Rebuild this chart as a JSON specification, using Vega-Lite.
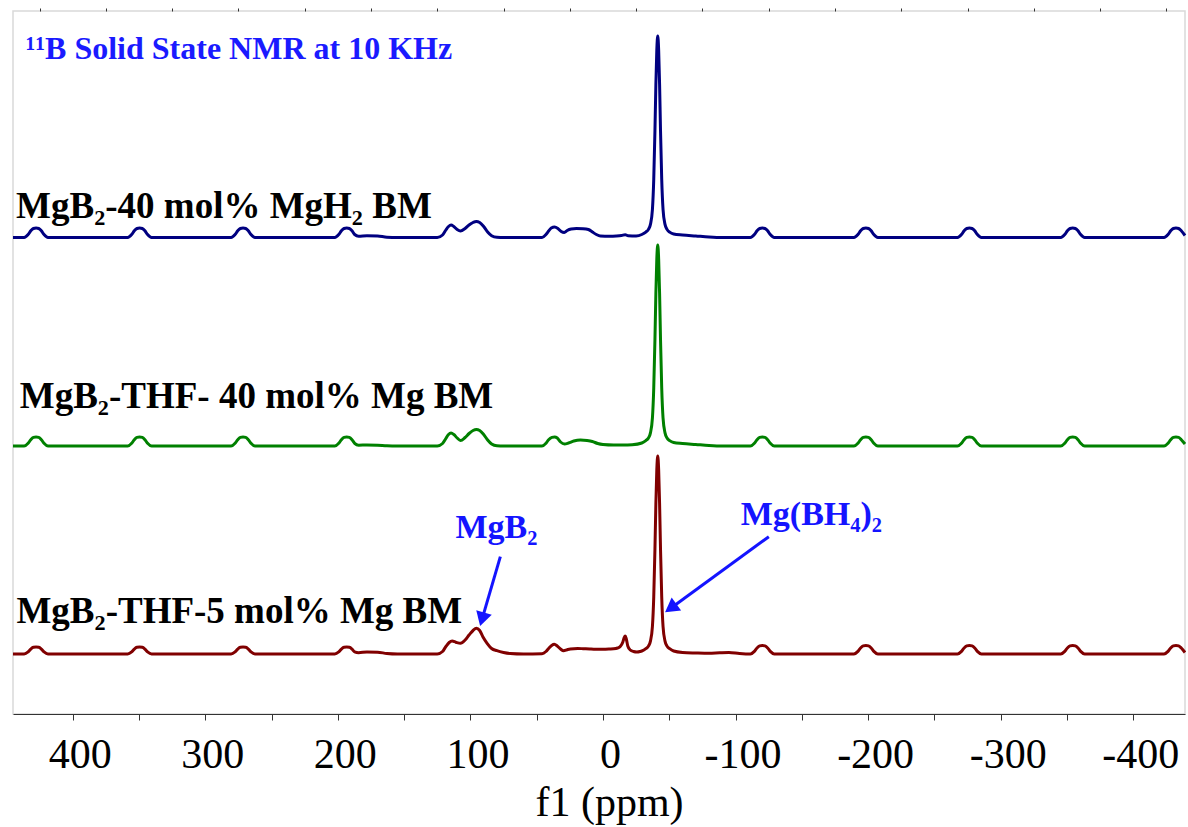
{
  "$schema": "https://vega.github.io/schema/vega-lite/v6.json",
  "width": 1172,
  "height": 703,
  "autosize": {"type": "none"},
  "padding": {"left": 13, "top": 11, "right": 3, "bottom": 113},
  "background": "white",
  "config": {"view": {"stroke": "#d9d9d9", "strokeWidth": 1.5}},
  "resolve": {"axis": {"x": "independent"}},
  "datasets": {
    "spectra": [
      {"s":"H40","ppm":445,"i":476.5},{"s":"H40","ppm":436.6,"i":476.5},{"s":"H40","ppm":433.6,"i":479.4},{"s":"H40","ppm":431.6,"i":483.2},{"s":"H40","ppm":429.6,"i":485.5},{"s":"H40","ppm":427.6,"i":486},{"s":"H40","ppm":425.6,"i":485.5},{"s":"H40","ppm":423.6,"i":483.2},{"s":"H40","ppm":421.6,"i":479.4},{"s":"H40","ppm":418.6,"i":476.5},
      {"s":"H40","ppm":358.5,"i":476.5},{"s":"H40","ppm":355.5,"i":479.4},{"s":"H40","ppm":353.5,"i":483.2},{"s":"H40","ppm":351.5,"i":485.5},{"s":"H40","ppm":349.5,"i":486},{"s":"H40","ppm":347.5,"i":485.5},{"s":"H40","ppm":345.5,"i":483.2},{"s":"H40","ppm":343.5,"i":479.4},{"s":"H40","ppm":340.5,"i":476.5},
      {"s":"H40","ppm":280.5,"i":476.5},{"s":"H40","ppm":277.5,"i":479.4},{"s":"H40","ppm":275.5,"i":483.2},{"s":"H40","ppm":273.5,"i":485.5},{"s":"H40","ppm":271.5,"i":486},{"s":"H40","ppm":269.5,"i":485.5},{"s":"H40","ppm":267.5,"i":483.2},{"s":"H40","ppm":265.5,"i":479.4},{"s":"H40","ppm":262.5,"i":476.5},
      {"s":"H40","ppm":202.3,"i":476.5},{"s":"H40","ppm":199.3,"i":479.4},{"s":"H40","ppm":197.3,"i":483.2},{"s":"H40","ppm":195.3,"i":485.5},{"s":"H40","ppm":193.3,"i":486},{"s":"H40","ppm":191.3,"i":485.5},{"s":"H40","ppm":189.3,"i":483.2},{"s":"H40","ppm":187.3,"i":479.5},{"s":"H40","ppm":184.3,"i":477.8},{"s":"H40","ppm":178,"i":478.3},{"s":"H40","ppm":170,"i":478},{"s":"H40","ppm":163,"i":476.8},{"s":"H40","ppm":155,"i":476.5},
      {"s":"H40","ppm":125,"i":476.5},{"s":"H40","ppm":121,"i":479},{"s":"H40","ppm":118.5,"i":484},{"s":"H40","ppm":116.5,"i":487.5},{"s":"H40","ppm":114.6,"i":489},{"s":"H40","ppm":112.5,"i":487.5},{"s":"H40","ppm":110,"i":484.5},{"s":"H40","ppm":107.5,"i":483},{"s":"H40","ppm":104,"i":485.5},{"s":"H40","ppm":101,"i":489},{"s":"H40","ppm":98,"i":491.5},{"s":"H40","ppm":95.5,"i":492.5},{"s":"H40","ppm":93,"i":491.5},{"s":"H40","ppm":90,"i":487.5},{"s":"H40","ppm":87,"i":482},{"s":"H40","ppm":84,"i":478.3},{"s":"H40","ppm":80,"i":476.7},{"s":"H40","ppm":75,"i":476.5},
      {"s":"H40","ppm":46,"i":476.5},{"s":"H40","ppm":43,"i":479.5},{"s":"H40","ppm":41,"i":483},{"s":"H40","ppm":39,"i":486},{"s":"H40","ppm":36.5,"i":487},{"s":"H40","ppm":34,"i":485.5},{"s":"H40","ppm":31.5,"i":482.5},{"s":"H40","ppm":29.2,"i":481.5},{"s":"H40","ppm":27,"i":483.5},{"s":"H40","ppm":24,"i":485},{"s":"H40","ppm":20,"i":485.5},{"s":"H40","ppm":15,"i":485.3},{"s":"H40","ppm":11,"i":484.5},{"s":"H40","ppm":8,"i":482},{"s":"H40","ppm":5,"i":479.5},{"s":"H40","ppm":2,"i":478},{"s":"H40","ppm":-5,"i":477.8},{"s":"H40","ppm":-10,"i":478},{"s":"H40","ppm":-14,"i":478.5},{"s":"H40","ppm":-16.8,"i":479.3},{"s":"H40","ppm":-19,"i":478.2},{"s":"H40","ppm":-25,"i":478},
      {"s":"H40","ppm":-29.3,"i":479.5},{"s":"H40","ppm":-32.3,"i":481.9},{"s":"H40","ppm":-34.3,"i":484.6},{"s":"H40","ppm":-35.8,"i":489.6},{"s":"H40","ppm":-37.3,"i":504.7},{"s":"H40","ppm":-38.3,"i":534.9},{"s":"H40","ppm":-39.2,"i":583.3},{"s":"H40","ppm":-39.9,"i":629.6},{"s":"H40","ppm":-40.6,"i":663.9},{"s":"H40","ppm":-41.3,"i":678},{"s":"H40","ppm":-42,"i":663.9},{"s":"H40","ppm":-42.7,"i":629.6},{"s":"H40","ppm":-43.4,"i":583.3},{"s":"H40","ppm":-44.3,"i":534.9},{"s":"H40","ppm":-45.3,"i":504.7},{"s":"H40","ppm":-46.8,"i":489.6},{"s":"H40","ppm":-48.3,"i":484.6},{"s":"H40","ppm":-50.3,"i":481.9},{"s":"H40","ppm":-53.3,"i":480},{"s":"H40","ppm":-60,"i":479},{"s":"H40","ppm":-70,"i":478},{"s":"H40","ppm":-80,"i":477},{"s":"H40","ppm":-90,"i":476.5},
      {"s":"H40","ppm":-111.2,"i":476.5},{"s":"H40","ppm":-114.2,"i":479.4},{"s":"H40","ppm":-116.2,"i":483.2},{"s":"H40","ppm":-118.2,"i":485.5},{"s":"H40","ppm":-120.2,"i":486},{"s":"H40","ppm":-122.2,"i":485.5},{"s":"H40","ppm":-124.2,"i":483.2},{"s":"H40","ppm":-126.2,"i":479.4},{"s":"H40","ppm":-129.2,"i":476.5},
      {"s":"H40","ppm":-189.3,"i":476.5},{"s":"H40","ppm":-192.3,"i":479.4},{"s":"H40","ppm":-194.3,"i":483.2},{"s":"H40","ppm":-196.3,"i":485.5},{"s":"H40","ppm":-198.3,"i":486},{"s":"H40","ppm":-200.3,"i":485.5},{"s":"H40","ppm":-202.3,"i":483.2},{"s":"H40","ppm":-204.3,"i":479.4},{"s":"H40","ppm":-207.3,"i":476.5},
      {"s":"H40","ppm":-267.4,"i":476.5},{"s":"H40","ppm":-270.4,"i":479.4},{"s":"H40","ppm":-272.4,"i":483.2},{"s":"H40","ppm":-274.4,"i":485.5},{"s":"H40","ppm":-276.4,"i":486},{"s":"H40","ppm":-278.4,"i":485.5},{"s":"H40","ppm":-280.4,"i":483.2},{"s":"H40","ppm":-282.4,"i":479.4},{"s":"H40","ppm":-285.4,"i":476.5},
      {"s":"H40","ppm":-345.3,"i":476.5},{"s":"H40","ppm":-348.3,"i":479.4},{"s":"H40","ppm":-350.3,"i":483.2},{"s":"H40","ppm":-352.3,"i":485.5},{"s":"H40","ppm":-354.3,"i":486},{"s":"H40","ppm":-356.3,"i":485.5},{"s":"H40","ppm":-358.3,"i":483.2},{"s":"H40","ppm":-360.3,"i":479.4},{"s":"H40","ppm":-363.3,"i":476.5},
      {"s":"H40","ppm":-423.2,"i":476.5},{"s":"H40","ppm":-426.2,"i":479.4},{"s":"H40","ppm":-428.2,"i":483.2},{"s":"H40","ppm":-430.2,"i":485.5},{"s":"H40","ppm":-432.2,"i":486},{"s":"H40","ppm":-434.2,"i":485.5},{"s":"H40","ppm":-436.2,"i":483.2},{"s":"H40","ppm":-439,"i":478.5},

      {"s":"Mg40","ppm":445,"i":268},{"s":"Mg40","ppm":436.6,"i":268},{"s":"Mg40","ppm":433.6,"i":270.7},{"s":"Mg40","ppm":431.6,"i":274.3},{"s":"Mg40","ppm":429.6,"i":276.6},{"s":"Mg40","ppm":427.6,"i":277},{"s":"Mg40","ppm":425.6,"i":276.6},{"s":"Mg40","ppm":423.6,"i":274.3},{"s":"Mg40","ppm":421.6,"i":270.7},{"s":"Mg40","ppm":418.6,"i":268},
      {"s":"Mg40","ppm":358.5,"i":268},{"s":"Mg40","ppm":355.5,"i":270.7},{"s":"Mg40","ppm":353.5,"i":274.3},{"s":"Mg40","ppm":351.5,"i":276.6},{"s":"Mg40","ppm":349.5,"i":277},{"s":"Mg40","ppm":347.5,"i":276.6},{"s":"Mg40","ppm":345.5,"i":274.3},{"s":"Mg40","ppm":343.5,"i":270.7},{"s":"Mg40","ppm":340.5,"i":268},
      {"s":"Mg40","ppm":280.5,"i":268},{"s":"Mg40","ppm":277.5,"i":270.7},{"s":"Mg40","ppm":275.5,"i":274.3},{"s":"Mg40","ppm":273.5,"i":276.6},{"s":"Mg40","ppm":271.5,"i":277},{"s":"Mg40","ppm":269.5,"i":276.6},{"s":"Mg40","ppm":267.5,"i":274.3},{"s":"Mg40","ppm":265.5,"i":270.7},{"s":"Mg40","ppm":262.5,"i":268},
      {"s":"Mg40","ppm":202.3,"i":268},{"s":"Mg40","ppm":199.3,"i":270.7},{"s":"Mg40","ppm":197.3,"i":274.3},{"s":"Mg40","ppm":195.3,"i":276.6},{"s":"Mg40","ppm":193.3,"i":277},{"s":"Mg40","ppm":191.3,"i":276.6},{"s":"Mg40","ppm":189.3,"i":274.3},{"s":"Mg40","ppm":187.3,"i":270.7},{"s":"Mg40","ppm":184.3,"i":268.8},{"s":"Mg40","ppm":178,"i":269},{"s":"Mg40","ppm":170,"i":268.8},{"s":"Mg40","ppm":163,"i":268.2},{"s":"Mg40","ppm":155,"i":268},
      {"s":"Mg40","ppm":125,"i":268},{"s":"Mg40","ppm":121,"i":270.5},{"s":"Mg40","ppm":118.5,"i":275.5},{"s":"Mg40","ppm":116.5,"i":279.5},{"s":"Mg40","ppm":114.6,"i":281},{"s":"Mg40","ppm":112.5,"i":279.5},{"s":"Mg40","ppm":110,"i":276},{"s":"Mg40","ppm":107.5,"i":273.5},{"s":"Mg40","ppm":104,"i":276.5},{"s":"Mg40","ppm":101,"i":280.5},{"s":"Mg40","ppm":98,"i":283.5},{"s":"Mg40","ppm":95.5,"i":284.5},{"s":"Mg40","ppm":93,"i":283.5},{"s":"Mg40","ppm":90,"i":279.5},{"s":"Mg40","ppm":87,"i":274},{"s":"Mg40","ppm":84,"i":270},{"s":"Mg40","ppm":80,"i":268.2},{"s":"Mg40","ppm":75,"i":268},
      {"s":"Mg40","ppm":46,"i":268},{"s":"Mg40","ppm":43,"i":270.7},{"s":"Mg40","ppm":41,"i":274.3},{"s":"Mg40","ppm":38.5,"i":276.6},{"s":"Mg40","ppm":36.5,"i":277},{"s":"Mg40","ppm":34.5,"i":276},{"s":"Mg40","ppm":32,"i":272},{"s":"Mg40","ppm":29,"i":270},{"s":"Mg40","ppm":26,"i":271},{"s":"Mg40","ppm":22,"i":273},{"s":"Mg40","ppm":17,"i":274},{"s":"Mg40","ppm":12,"i":273.5},{"s":"Mg40","ppm":8,"i":272.5},{"s":"Mg40","ppm":4,"i":270.5},{"s":"Mg40","ppm":0,"i":269.5},{"s":"Mg40","ppm":-8,"i":269},{"s":"Mg40","ppm":-15,"i":269},{"s":"Mg40","ppm":-22,"i":269.3},
      {"s":"Mg40","ppm":-29.3,"i":271},{"s":"Mg40","ppm":-32.3,"i":273.4},{"s":"Mg40","ppm":-34.3,"i":276},{"s":"Mg40","ppm":-35.8,"i":281.1},{"s":"Mg40","ppm":-37.3,"i":296.1},{"s":"Mg40","ppm":-38.3,"i":326.3},{"s":"Mg40","ppm":-39.2,"i":374.5},{"s":"Mg40","ppm":-39.9,"i":420.8},{"s":"Mg40","ppm":-40.6,"i":455},{"s":"Mg40","ppm":-41.3,"i":469},{"s":"Mg40","ppm":-42,"i":455},{"s":"Mg40","ppm":-42.7,"i":420.8},{"s":"Mg40","ppm":-43.4,"i":374.5},{"s":"Mg40","ppm":-44.3,"i":326.3},{"s":"Mg40","ppm":-45.3,"i":296.1},{"s":"Mg40","ppm":-46.8,"i":281.1},{"s":"Mg40","ppm":-48.3,"i":276},{"s":"Mg40","ppm":-50.3,"i":273.4},{"s":"Mg40","ppm":-53.3,"i":271.5},{"s":"Mg40","ppm":-60,"i":270.5},{"s":"Mg40","ppm":-70,"i":269.5},{"s":"Mg40","ppm":-80,"i":268.5},{"s":"Mg40","ppm":-90,"i":268},
      {"s":"Mg40","ppm":-111.2,"i":268},{"s":"Mg40","ppm":-114.2,"i":270.7},{"s":"Mg40","ppm":-116.2,"i":274.3},{"s":"Mg40","ppm":-118.2,"i":276.6},{"s":"Mg40","ppm":-120.2,"i":277},{"s":"Mg40","ppm":-122.2,"i":276.6},{"s":"Mg40","ppm":-124.2,"i":274.3},{"s":"Mg40","ppm":-126.2,"i":270.7},{"s":"Mg40","ppm":-129.2,"i":268},
      {"s":"Mg40","ppm":-189.3,"i":268},{"s":"Mg40","ppm":-192.3,"i":270.7},{"s":"Mg40","ppm":-194.3,"i":274.3},{"s":"Mg40","ppm":-196.3,"i":276.6},{"s":"Mg40","ppm":-198.3,"i":277},{"s":"Mg40","ppm":-200.3,"i":276.6},{"s":"Mg40","ppm":-202.3,"i":274.3},{"s":"Mg40","ppm":-204.3,"i":270.7},{"s":"Mg40","ppm":-207.3,"i":268},
      {"s":"Mg40","ppm":-267.4,"i":268},{"s":"Mg40","ppm":-270.4,"i":270.7},{"s":"Mg40","ppm":-272.4,"i":274.3},{"s":"Mg40","ppm":-274.4,"i":276.6},{"s":"Mg40","ppm":-276.4,"i":277},{"s":"Mg40","ppm":-278.4,"i":276.6},{"s":"Mg40","ppm":-280.4,"i":274.3},{"s":"Mg40","ppm":-282.4,"i":270.7},{"s":"Mg40","ppm":-285.4,"i":268},
      {"s":"Mg40","ppm":-345.3,"i":268},{"s":"Mg40","ppm":-348.3,"i":270.7},{"s":"Mg40","ppm":-350.3,"i":274.3},{"s":"Mg40","ppm":-352.3,"i":276.6},{"s":"Mg40","ppm":-354.3,"i":277},{"s":"Mg40","ppm":-356.3,"i":276.6},{"s":"Mg40","ppm":-358.3,"i":274.3},{"s":"Mg40","ppm":-360.3,"i":270.7},{"s":"Mg40","ppm":-363.3,"i":268},
      {"s":"Mg40","ppm":-423.2,"i":268},{"s":"Mg40","ppm":-426.2,"i":270.7},{"s":"Mg40","ppm":-428.2,"i":274.3},{"s":"Mg40","ppm":-430.2,"i":276.6},{"s":"Mg40","ppm":-432.2,"i":277},{"s":"Mg40","ppm":-434.2,"i":276.6},{"s":"Mg40","ppm":-436.2,"i":274.3},{"s":"Mg40","ppm":-439,"i":270},

      {"s":"Mg5","ppm":445,"i":60},{"s":"Mg5","ppm":436.6,"i":60},{"s":"Mg5","ppm":433.6,"i":62.1},{"s":"Mg5","ppm":431.6,"i":64.9},{"s":"Mg5","ppm":429.6,"i":66.7},{"s":"Mg5","ppm":427.6,"i":67},{"s":"Mg5","ppm":425.6,"i":66.7},{"s":"Mg5","ppm":423.6,"i":64.9},{"s":"Mg5","ppm":421.6,"i":62.1},{"s":"Mg5","ppm":418.6,"i":60},
      {"s":"Mg5","ppm":358.5,"i":60},{"s":"Mg5","ppm":355.5,"i":62.1},{"s":"Mg5","ppm":353.5,"i":64.9},{"s":"Mg5","ppm":351.5,"i":66.7},{"s":"Mg5","ppm":349.5,"i":67},{"s":"Mg5","ppm":347.5,"i":66.7},{"s":"Mg5","ppm":345.5,"i":64.9},{"s":"Mg5","ppm":343.5,"i":62.1},{"s":"Mg5","ppm":340.5,"i":60},
      {"s":"Mg5","ppm":280.5,"i":60},{"s":"Mg5","ppm":277.5,"i":62.1},{"s":"Mg5","ppm":275.5,"i":64.9},{"s":"Mg5","ppm":273.5,"i":66.7},{"s":"Mg5","ppm":271.5,"i":67},{"s":"Mg5","ppm":269.5,"i":66.7},{"s":"Mg5","ppm":267.5,"i":64.9},{"s":"Mg5","ppm":265.5,"i":62.1},{"s":"Mg5","ppm":262.5,"i":60},
      {"s":"Mg5","ppm":202.3,"i":60},{"s":"Mg5","ppm":199.3,"i":62.1},{"s":"Mg5","ppm":197.3,"i":64.9},{"s":"Mg5","ppm":195.3,"i":66.7},{"s":"Mg5","ppm":193.3,"i":67},{"s":"Mg5","ppm":191.3,"i":66.7},{"s":"Mg5","ppm":189.3,"i":64.9},{"s":"Mg5","ppm":187.3,"i":62.1},{"s":"Mg5","ppm":184.3,"i":61.3},{"s":"Mg5","ppm":178,"i":62},{"s":"Mg5","ppm":170,"i":61.8},{"s":"Mg5","ppm":163,"i":60.5},{"s":"Mg5","ppm":155,"i":60},
      {"s":"Mg5","ppm":125,"i":60},{"s":"Mg5","ppm":121,"i":62.5},{"s":"Mg5","ppm":118.5,"i":67.5},{"s":"Mg5","ppm":116,"i":71.5},{"s":"Mg5","ppm":113.8,"i":73},{"s":"Mg5","ppm":111,"i":71.8},{"s":"Mg5","ppm":107.5,"i":70.7},{"s":"Mg5","ppm":104,"i":74},{"s":"Mg5","ppm":101,"i":79},{"s":"Mg5","ppm":98,"i":83.5},{"s":"Mg5","ppm":95.5,"i":85.7},{"s":"Mg5","ppm":93,"i":83.5},{"s":"Mg5","ppm":90.5,"i":77},{"s":"Mg5","ppm":87.4,"i":70.7},{"s":"Mg5","ppm":84,"i":65.5},{"s":"Mg5","ppm":80,"i":63.3},{"s":"Mg5","ppm":75,"i":61.5},{"s":"Mg5","ppm":70,"i":60.5},{"s":"Mg5","ppm":60,"i":60},
      {"s":"Mg5","ppm":46,"i":60.3},{"s":"Mg5","ppm":43,"i":62.5},{"s":"Mg5","ppm":41,"i":65.5},{"s":"Mg5","ppm":38.7,"i":68.5},{"s":"Mg5","ppm":36.7,"i":69.7},{"s":"Mg5","ppm":34.5,"i":68},{"s":"Mg5","ppm":32,"i":65},{"s":"Mg5","ppm":29.7,"i":63.3},{"s":"Mg5","ppm":27,"i":64.3},{"s":"Mg5","ppm":24.6,"i":65},{"s":"Mg5","ppm":19,"i":65.5},{"s":"Mg5","ppm":15,"i":65.3},{"s":"Mg5","ppm":10,"i":65},{"s":"Mg5","ppm":7,"i":64.8},{"s":"Mg5","ppm":0,"i":64.8},{"s":"Mg5","ppm":-5,"i":65},{"s":"Mg5","ppm":-8,"i":65.2},{"s":"Mg5","ppm":-11,"i":66},{"s":"Mg5","ppm":-13,"i":67.5},{"s":"Mg5","ppm":-15,"i":72},{"s":"Mg5","ppm":-16,"i":76.5},{"s":"Mg5","ppm":-16.8,"i":78},{"s":"Mg5","ppm":-17.6,"i":75},{"s":"Mg5","ppm":-18.7,"i":68},{"s":"Mg5","ppm":-20.6,"i":64},{"s":"Mg5","ppm":-23,"i":62.5},{"s":"Mg5","ppm":-25.6,"i":62},{"s":"Mg5","ppm":-28,"i":62.5},
      {"s":"Mg5","ppm":-29.3,"i":63},{"s":"Mg5","ppm":-32.3,"i":65.3},{"s":"Mg5","ppm":-34.3,"i":67.9},{"s":"Mg5","ppm":-35.8,"i":72.9},{"s":"Mg5","ppm":-37.3,"i":87.7},{"s":"Mg5","ppm":-38.3,"i":117.4},{"s":"Mg5","ppm":-39.2,"i":164.9},{"s":"Mg5","ppm":-39.9,"i":210.5},{"s":"Mg5","ppm":-40.6,"i":244.1},{"s":"Mg5","ppm":-41.3,"i":258},{"s":"Mg5","ppm":-42,"i":244.1},{"s":"Mg5","ppm":-42.7,"i":210.5},{"s":"Mg5","ppm":-43.4,"i":164.9},{"s":"Mg5","ppm":-44.3,"i":117.4},{"s":"Mg5","ppm":-45.3,"i":87.7},{"s":"Mg5","ppm":-46.8,"i":72.9},{"s":"Mg5","ppm":-48.3,"i":67.9},{"s":"Mg5","ppm":-50.3,"i":65.3},{"s":"Mg5","ppm":-53.3,"i":63},{"s":"Mg5","ppm":-60,"i":61.5},{"s":"Mg5","ppm":-70,"i":61},{"s":"Mg5","ppm":-80,"i":60.7},{"s":"Mg5","ppm":-88,"i":61.2},{"s":"Mg5","ppm":-95,"i":61.5},{"s":"Mg5","ppm":-103,"i":60.5},
      {"s":"Mg5","ppm":-111.2,"i":60},{"s":"Mg5","ppm":-114.2,"i":62.6},{"s":"Mg5","ppm":-116.2,"i":66},{"s":"Mg5","ppm":-118.2,"i":68.1},{"s":"Mg5","ppm":-120.2,"i":68.5},{"s":"Mg5","ppm":-122.2,"i":68.1},{"s":"Mg5","ppm":-124.2,"i":66},{"s":"Mg5","ppm":-126.2,"i":62.6},{"s":"Mg5","ppm":-129.2,"i":60},
      {"s":"Mg5","ppm":-189.3,"i":60},{"s":"Mg5","ppm":-192.3,"i":62.6},{"s":"Mg5","ppm":-194.3,"i":66},{"s":"Mg5","ppm":-196.3,"i":68.1},{"s":"Mg5","ppm":-198.3,"i":68.5},{"s":"Mg5","ppm":-200.3,"i":68.1},{"s":"Mg5","ppm":-202.3,"i":66},{"s":"Mg5","ppm":-204.3,"i":62.6},{"s":"Mg5","ppm":-207.3,"i":60},
      {"s":"Mg5","ppm":-267.4,"i":60},{"s":"Mg5","ppm":-270.4,"i":62.6},{"s":"Mg5","ppm":-272.4,"i":66},{"s":"Mg5","ppm":-274.4,"i":68.1},{"s":"Mg5","ppm":-276.4,"i":68.5},{"s":"Mg5","ppm":-278.4,"i":68.1},{"s":"Mg5","ppm":-280.4,"i":66},{"s":"Mg5","ppm":-282.4,"i":62.6},{"s":"Mg5","ppm":-285.4,"i":60},
      {"s":"Mg5","ppm":-345.3,"i":60},{"s":"Mg5","ppm":-348.3,"i":62.6},{"s":"Mg5","ppm":-350.3,"i":66},{"s":"Mg5","ppm":-352.3,"i":68.1},{"s":"Mg5","ppm":-354.3,"i":68.5},{"s":"Mg5","ppm":-356.3,"i":68.1},{"s":"Mg5","ppm":-358.3,"i":66},{"s":"Mg5","ppm":-360.3,"i":62.6},{"s":"Mg5","ppm":-363.3,"i":60},
      {"s":"Mg5","ppm":-423.2,"i":60},{"s":"Mg5","ppm":-426.2,"i":62.6},{"s":"Mg5","ppm":-428.2,"i":66},{"s":"Mg5","ppm":-430.2,"i":68.1},{"s":"Mg5","ppm":-432.2,"i":68.5},{"s":"Mg5","ppm":-434.2,"i":68.1},{"s":"Mg5","ppm":-436.2,"i":66},{"s":"Mg5","ppm":-439,"i":61.5}
    ],
    "titles": [
      {"ppm": 435.3, "i": 654.7, "t": "¹¹B Solid State NMR at 10 KHz"}
    ],
    "samples": [
      {"ppm": 442.7, "i": 495.7, "t": "MgB₂-40 mol% MgH₂ BM"},
      {"ppm": 439.9, "i": 305.7, "t": "MgB₂-THF- 40 mol% Mg BM"},
      {"ppm": 442.4, "i": 91.3, "t": "MgB₂-THF-5 mol% Mg BM"}
    ],
    "notes": [
      {"ppm": 111.3, "i": 176, "t": "MgB₂"},
      {"ppm": -103.9, "i": 189, "t": "Mg(BH₄)₂"}
    ],
    "arrows": [
      {"name": "MgB2", "ppm": 77.4, "i": 157.3, "ppm2": 91.2, "i2": 94.8},
      {"name": "MgBH4", "ppm": -125.1, "i": 177.3, "ppm2": -51.1, "i2": 105.8}
    ]
  },
  "layer": [
    {
      "data": {"name": "spectra"},
      "mark": {"type": "line", "strokeWidth": 3, "interpolate": "monotone", "strokeJoin": "round"},
      "encoding": {
        "x": {
          "field": "ppm", "type": "quantitative",
          "scale": {"domain": [445, -439], "nice": false, "zero": false},
          "axis": {
            "values": [400,350,300,250,200,150,100,50,0,-50,-100,-150,-200,-250,-300,-350,-400],
            "labelExpr": "datum.value % 100 === 0 ? '' + datum.value : ''",
            "tickSize": 6,
            "tickColor": "#333333",
            "tickWidth": 1,
            "domainColor": "#333333",
            "domainWidth": 1,
            "grid": false,
            "labelFont": "Liberation Serif",
            "labelFontSize": 42,
            "labelColor": "black",
            "labelOffset": 7,
            "labelPadding": 14,
            "labelOverlap": false,
            "labelFlush": false,
            "title": "f1 (ppm)",
            "titleFont": "Liberation Serif",
            "titleFontSize": 42,
            "titleFontWeight": "normal",
            "titleColor": "black",
            "titleX": 596,
            "titleY": 101,
            "titleBaseline": "alphabetic",
            "titleAlign": "center"
          }
        },
        "y": {"field": "i", "type": "quantitative", "scale": {"domain": [0, 703], "nice": false, "zero": false}, "axis": null},
        "color": {"field": "s", "type": "nominal", "scale": {"domain": ["H40", "Mg40", "Mg5"], "range": ["#000080", "#008000", "#800000"]}, "legend": null}
      }
    },
    {
      "data": {"name": "titles"},
      "mark": {"type": "point", "opacity": 0},
      "encoding": {
        "x": {
          "field": "ppm", "type": "quantitative",
          "axis": {
            "values": [425,375,325,275,225,175,125,75,25,-25,-75,-125,-175,-225,-275,-325,-375,-425],
            "tickSize": 3,
            "tickColor": "#333333",
            "tickWidth": 1,
            "domain": false,
            "labels": false,
            "grid": false,
            "title": null
          }
        },
        "y": {"field": "i", "type": "quantitative", "axis": null}
      }
    },
    {
      "data": {"name": "titles"},
      "mark": {"type": "text", "font": "Liberation Serif", "fontWeight": "bold", "fontSize": 32, "color": "#1a1aff", "align": "left", "baseline": "alphabetic"},
      "encoding": {"x": {"field": "ppm", "type": "quantitative", "axis": null}, "y": {"field": "i", "type": "quantitative"}, "text": {"field": "t"}}
    },
    {
      "data": {"name": "samples"},
      "mark": {"type": "text", "font": "Liberation Serif", "fontWeight": "bold", "fontSize": 37, "color": "black", "align": "left", "baseline": "alphabetic"},
      "encoding": {"x": {"field": "ppm", "type": "quantitative", "axis": null}, "y": {"field": "i", "type": "quantitative"}, "text": {"field": "t"}}
    },
    {
      "data": {"name": "notes"},
      "mark": {"type": "text", "font": "Liberation Serif", "fontWeight": "bold", "fontSize": 34, "color": "#1414ff", "align": "left", "baseline": "alphabetic"},
      "encoding": {"x": {"field": "ppm", "type": "quantitative", "axis": null}, "y": {"field": "i", "type": "quantitative"}, "text": {"field": "t"}}
    },
    {
      "data": {"name": "arrows"},
      "mark": {"type": "rule", "strokeWidth": 3, "color": "#1414ff"},
      "encoding": {"x": {"field": "ppm", "type": "quantitative", "axis": null}, "y": {"field": "i", "type": "quantitative"}, "x2": {"field": "ppm2"}, "y2": {"field": "i2"}}
    },
    {
      "data": {"name": "arrows"},
      "transform": [{"filter": "datum.name === 'MgB2'"}],
      "mark": {"type": "point", "shape": "triangle-up", "filled": true, "size": 260, "angle": 196, "color": "#1414ff", "opacity": 1, "strokeWidth": 0},
      "encoding": {"x": {"field": "ppm2", "type": "quantitative", "axis": null}, "y": {"field": "i2", "type": "quantitative"}}
    },
    {
      "data": {"name": "arrows"},
      "transform": [{"filter": "datum.name === 'MgBH4'"}],
      "mark": {"type": "point", "shape": "triangle-up", "filled": true, "size": 260, "angle": 234, "color": "#1414ff", "opacity": 1, "strokeWidth": 0},
      "encoding": {"x": {"field": "ppm2", "type": "quantitative", "axis": null}, "y": {"field": "i2", "type": "quantitative"}}
    }
  ]
}
